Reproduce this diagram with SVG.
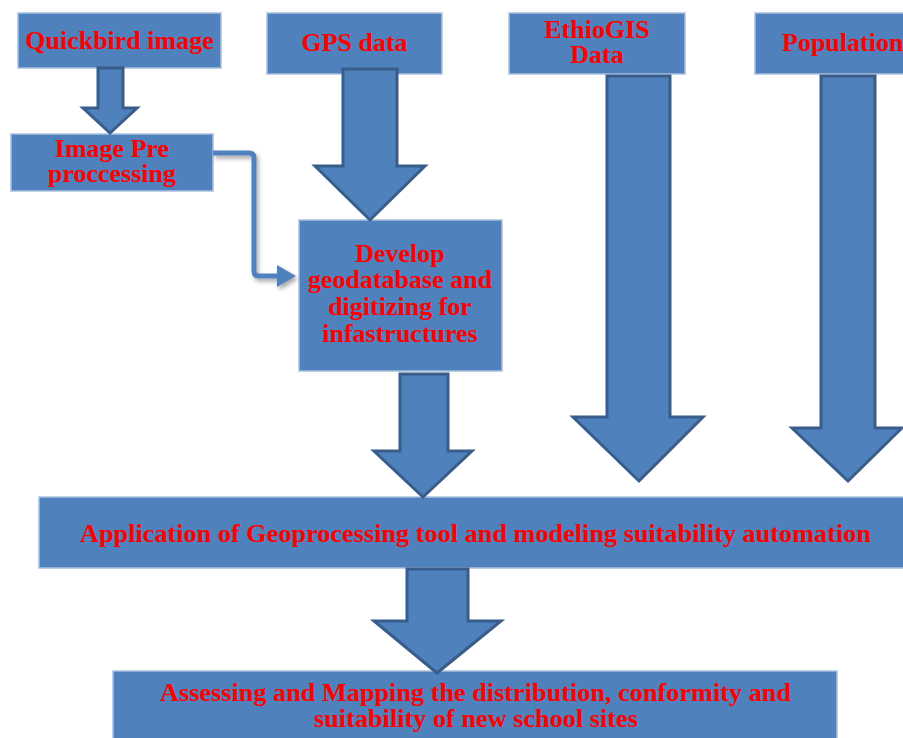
<svg xmlns="http://www.w3.org/2000/svg" width="903" height="738" viewBox="0 0 903 738">
<defs>
<style>
.box{fill:#4f81bd;stroke:#a9c0de;stroke-width:1.5}
.arr{fill:#4f81bd;stroke:#385d8a;stroke-width:3;stroke-linejoin:miter}
.t{font-family:"Liberation Serif","Times New Roman",serif;font-weight:bold;font-size:26px;fill:#ff0000;text-anchor:middle}
.conn{fill:none;stroke:#4f81bd;stroke-width:5}
</style>
<filter id="sh" x="-20%" y="-20%" width="140%" height="140%">
<feDropShadow dx="2" dy="3" stdDeviation="2" flood-color="#000" flood-opacity="0.35"/>
</filter>
</defs>
<rect width="903" height="738" fill="#ffffff"/>
<g id="quickbird"><rect class="box" x="18" y="13" width="203" height="55"/><text class="t" x="119.5" y="49">Quickbird image</text></g>
<g id="gps"><rect class="box" x="267" y="13" width="175" height="61"/><text class="t" x="354.5" y="51">GPS data</text></g>
<g id="ethiogis"><rect class="box" x="509" y="13" width="176" height="61"/><text class="t" x="597" y="38">EthioGIS</text><text class="t" x="597" y="63">Data</text></g>
<g id="population"><rect class="box" x="755" y="13" width="160" height="61"/><text class="t" x="782" y="51" style="text-anchor:start">Population</text></g>
<g id="preprocessing"><rect class="box" x="11" y="134" width="202" height="57"/><text class="t" x="112" y="157">Image Pre</text><text class="t" x="112" y="182">proccessing</text></g>
<g id="develop"><rect class="box" x="299" y="220" width="203" height="151"/><text class="t" x="400" y="262">Develop</text><text class="t" x="400" y="288">geodatabase and</text><text class="t" x="400" y="315">digitizing for</text><text class="t" x="400" y="342">infastructures</text></g>
<g id="application"><rect class="box" x="39" y="497" width="880" height="71"/><text class="t" x="80" y="542" style="text-anchor:start" textLength="791" lengthAdjust="spacingAndGlyphs">Application of Geoprocessing tool and modeling suitability automation</text></g>
<g id="assessing"><rect class="box" x="113" y="671" width="724" height="80"/><text class="t" x="475.5" y="701" textLength="631" lengthAdjust="spacingAndGlyphs">Assessing and Mapping the distribution, conformity and</text><text class="t" x="476" y="727" textLength="324" lengthAdjust="spacingAndGlyphs">suitability of new school sites</text></g>
<g id="connectors">
<polygon class="arr" points="98,68 123,68 123,108 137,108 110,133 83,108 98,108"/>
<polygon class="arr" points="343,69 397,69 397,166 425,166 370,220 315,166 343,166"/>
<polygon class="arr" points="400,374 448,374 448,451 472,451 423,497 374,451 400,451"/>
<polygon class="arr" points="607,76 670,76 670,417 703,417 639,481 573,417 607,417"/>
<polygon class="arr" points="821,76 875,76 875,428 902,428 848,481 792,428 821,428"/>
<polygon class="arr" points="407,569 468,569 468,621 501,621 437,673 374,621 407,621"/>
<g filter="url(#sh)">
<path class="conn" d="M213,153 H249 Q254,153 254,158 V271 Q254,276 259,276 H279"/>
<polygon fill="#4f81bd" points="277,265 296,276 277,287"/>
</g>
</g>
</svg>
